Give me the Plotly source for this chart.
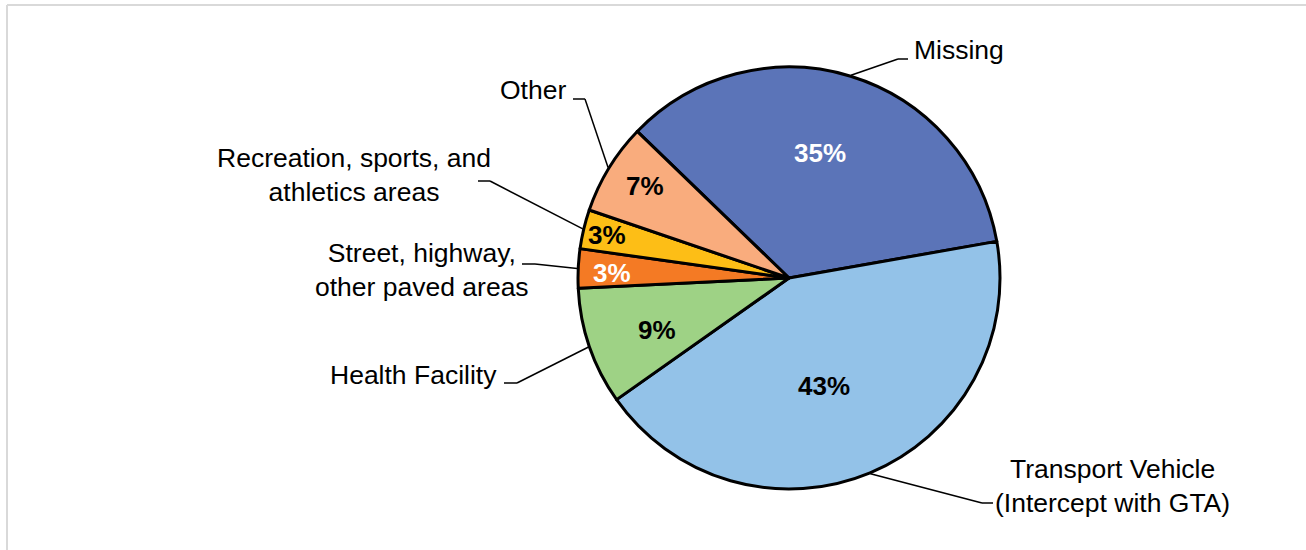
import math
import plotly.graph_objects as go

# Share of cases by location
categories = [
    "Missing",
    "Transport Vehicle<br>(Intercept with GTA)",
    "Health Facility",
    "Street, highway,<br>other paved areas",
    "Recreation, sports, and<br>athletics areas",
    "Other",
]
shares = [35, 43, 9, 3, 3, 7]

colors = ["#5B74B8", "#93C2E8", "#9ED285", "#F47A24", "#FDBE16", "#F9AC7D"]
pct_colors = ["white", "black", "black", "white", "black", "black"]

W, H = 1306, 550
CX, CY, R = 789, 278, 211
START = -46  # first slice begins left of 12 o'clock, clockwise

# percent-label placement: radial fraction and small angular nudge per slice
pct_radius = [0.61, 0.54, 0.67, 0.84, 0.885, 0.81]
pct_nudge = [-3, 4.5, -2.5, -1, 0, 1.2]

# category-label layout: elbow of the leader, end of the leader, text anchor
elbows = [(898, 59), (982, 503), (517, 383), (535, 264), (490, 181), (585, 99)]
ends = [(908, 59), (993, 503), (504, 383), (522, 264), (478, 181), (573, 99)]
text_pos = [(912, 50, "left"), (1112, 486, "center"), (499, 375, "right"),
            (422, 270, "center"), (354, 175, "center"), (568, 90, "right")]

FONT = "Liberation Sans, Arial, sans-serif"


def px(x):
    return x / W


def py(y):
    return 1 - y / H


def polar(angle_deg, r):
    a = math.radians(angle_deg)
    return CX + r * math.sin(a), CY - r * math.cos(a)


fig = go.Figure(go.Pie(
    labels=categories,
    values=shares,
    sort=False,
    direction="clockwise",
    rotation=START,
    textinfo="none",
    hoverinfo="label+percent",
    marker=dict(colors=colors, line=dict(color="black", width=3)),
    domain=dict(x=[px(CX - R), px(CX + R)], y=[py(CY + R), py(CY - R)]),
    showlegend=False,
))

total = sum(shares)
annotations = []
shapes = []
acc = START
for i, v in enumerate(shares):
    span = 360 * v / total
    mid = acc + span / 2
    acc += span

    # percentage inside the slice
    x, y = polar(mid + pct_nudge[i], R * pct_radius[i])
    annotations.append(dict(
        x=px(x), y=py(y), xref="paper", yref="paper",
        text=f"<b>{round(100 * v / total)}%</b>", showarrow=False,
        font=dict(family=FONT, size=26, color=pct_colors[i]),
        xanchor="center", yanchor="middle",
    ))

    # leader line from slice edge to the category label
    sx, sy = polar(mid, R + 1)
    ex, ey = elbows[i]
    tx, ty = ends[i]
    shapes.append(dict(type="line", xref="paper", yref="paper",
                       x0=px(sx), y0=py(sy), x1=px(ex), y1=py(ey),
                       line=dict(color="black", width=1.5)))
    shapes.append(dict(type="line", xref="paper", yref="paper",
                       x0=px(ex), y0=py(ey), x1=px(tx), y1=py(ty),
                       line=dict(color="black", width=1.5)))

    lx, ly, anchor = text_pos[i]
    annotations.append(dict(
        x=px(lx), y=py(ly), xref="paper", yref="paper",
        text=categories[i], showarrow=False, align="center",
        font=dict(family=FONT, size=26.5, color="black"),
        xanchor=anchor, yanchor="middle",
    ))

# chart frame
shapes.append(dict(type="line", xref="paper", yref="paper",
                   x0=px(7), y0=py(H + 5), x1=px(7), y1=py(5),
                   line=dict(color="#D9D9D9", width=2)))
shapes.append(dict(type="line", xref="paper", yref="paper",
                   x0=px(7), y0=py(5), x1=px(W + 5), y1=py(5),
                   line=dict(color="#D9D9D9", width=2)))

fig.update_layout(
    width=W, height=H,
    margin=dict(l=0, r=0, t=0, b=0),
    paper_bgcolor="white", plot_bgcolor="white",
    annotations=annotations, shapes=shapes,
)

fig.write_html("out.html")
